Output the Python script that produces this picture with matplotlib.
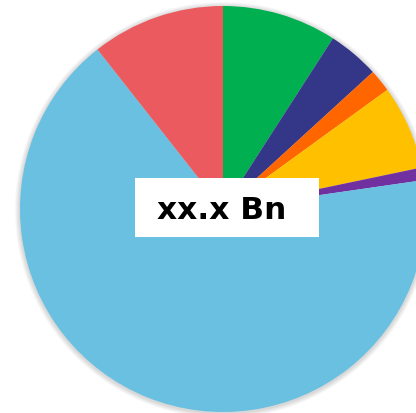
import matplotlib.pyplot as plt
from matplotlib.patches import Circle, Rectangle

segments = ['Green', 'Navy', 'Orange', 'Gold', 'Purple', 'Light blue', 'Red']
shares = [9.1, 4.1, 1.8, 6.7, 1.0, 66.6, 10.6]
colors = ['#00B050', '#343687', '#FF6600', '#FFC000', '#7030A0', '#69C0E1', '#EB5A5E']
center_label = 'xx.x Bn'

fig = plt.figure(figsize=(4.16, 4.14), dpi=100)
ax = fig.add_axes([0, 0, 1, 1])

cx, cy, r = 223, 204, 203

# soft drop shadow around the pie
for k in range(1, 6):
    ax.add_patch(Circle((cx, cy - 1), r + k, color='#000000', alpha=0.03, lw=0, zorder=0))

ax.pie(shares, colors=colors, startangle=90, counterclock=False,
       center=(cx, cy), radius=r, frame=True,
       wedgeprops={'linewidth': 0, 'zorder': 1})
ax.set_xlim(0, 416)
ax.set_ylim(0, 414)
ax.axis('off')

# white label box in the middle
ax.add_patch(Rectangle((135, 414 - 238), 184, 59, color='white', lw=0, zorder=3))
ax.text(221.5, 414 - 219, center_label, ha='center', va='baseline',
        fontsize=22.5, fontweight='bold', color='black', zorder=4)

fig.savefig('out.png', dpi=100)
